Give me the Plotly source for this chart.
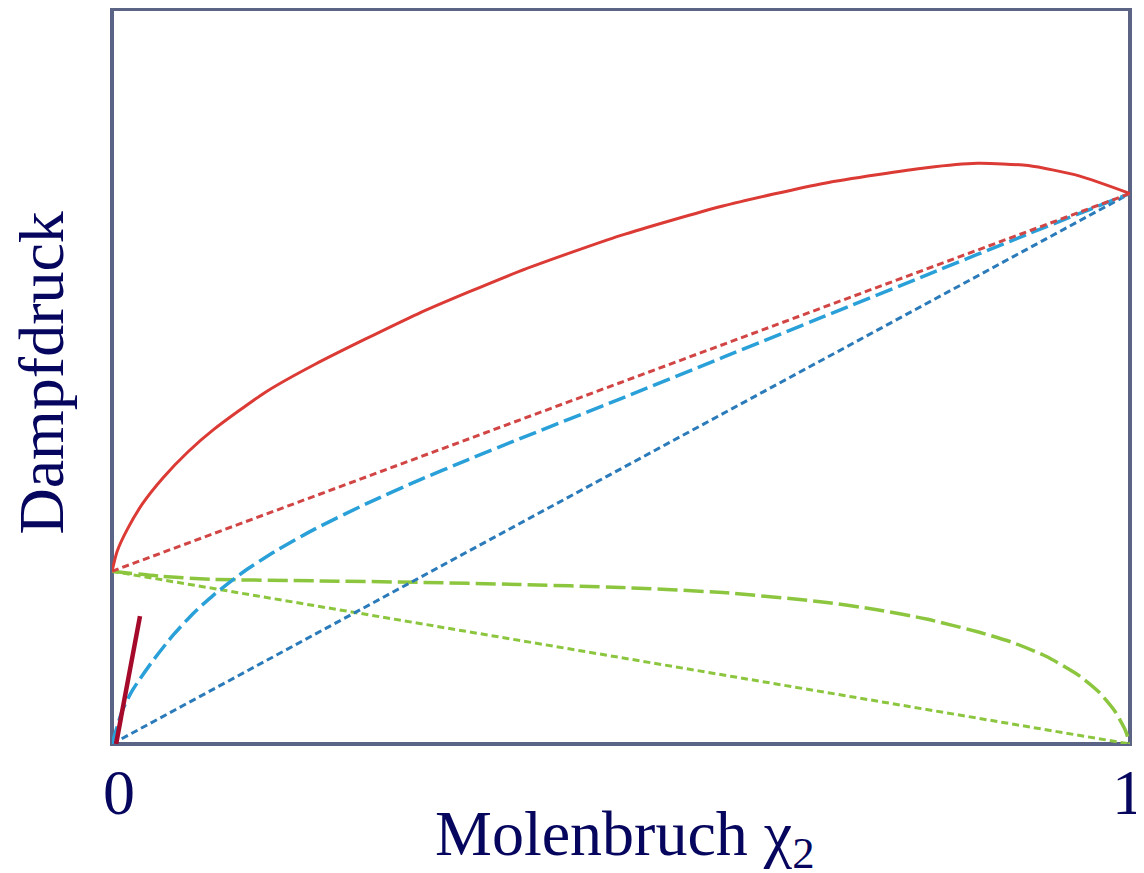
import plotly.graph_objects as go

# ---- data (x = mole fraction, y = relative vapour pressure) ----
x_red_solid = [0, 0.005, 0.015, 0.03, 0.05, 0.075, 0.1, 0.15, 0.2, 0.3, 0.4, 0.5, 0.6, 0.7, 0.8, 0.85, 0.9, 0.95, 1.0]
y_red_solid = [0.235, 0.262, 0.292, 0.327, 0.362, 0.398, 0.428, 0.478, 0.517, 0.585, 0.643, 0.692, 0.732, 0.763, 0.784, 0.790, 0.787, 0.773, 0.749]

x_red_dot = [0, 1]
y_red_dot = [0.235, 0.749]

x_blue_dash = [0, 0.01, 0.02, 0.04, 0.06, 0.08, 0.1, 0.13, 0.16, 0.2, 0.25, 0.3, 0.35, 0.4, 0.5, 0.6, 0.7, 0.8, 0.9, 1.0]
y_blue_dash = [0, 0.045, 0.073, 0.113, 0.148, 0.178, 0.203, 0.235, 0.262, 0.293, 0.327, 0.358, 0.387, 0.415, 0.470,
               0.526, 0.582, 0.638, 0.694, 0.749]

x_blue_dot = [0, 1]
y_blue_dot = [0, 0.749]

x_green_dash = [0, 0.05, 0.1, 0.2, 0.3, 0.4, 0.5, 0.6, 0.7, 0.75, 0.8, 0.852, 0.885, 0.918, 0.951, 0.97, 0.985, 0.995, 1.0]
y_green_dash = [0.235, 0.228, 0.224, 0.222, 0.220, 0.217, 0.213, 0.206, 0.193, 0.183, 0.170, 0.152, 0.138, 0.119, 0.092,
                0.070, 0.045, 0.020, 0.0]

x_green_dot = [0, 1]
y_green_dot = [0.235, 0]

x_henry = [0.004, 0.0275]
y_henry = [0, 0.174]

tick_vals = [0, 1]
tick_text = ["0", "1"]

x_title = "Molenbruch χ<sub>2</sub>"
y_title = "Dampfdruck"

# ---- styles ----
TXT = "#06065e"
FONT = "Liberation Serif"

fig = go.Figure()


def add(x, y, color, width, dash="solid", shape="spline"):
    fig.add_trace(go.Scatter(x=x, y=y, mode="lines",
                             line=dict(color=color, width=width, dash=dash, shape=shape, smoothing=0.6),
                             hoverinfo="skip", showlegend=False))


add(x_green_dot, y_green_dot, "#8cc63f", 3, "7px,4px", "linear")
add(x_green_dash, y_green_dash, "#8cc63f", 3.5, "20px,6px")
add(x_blue_dot, y_blue_dot, "#2b7bba", 3, "7px,4px", "linear")
add(x_blue_dash, y_blue_dash, "#2aa0d9", 3.5, "18px,6px")
add(x_red_dot, y_red_dot, "#d24545", 3, "7px,4px", "linear")
add(x_red_solid, y_red_solid, "#db3a35", 3)
add(x_henry, y_henry, "#a50a2a", 4.5, "solid", "linear")

fig.add_shape(type="rect", xref="paper", yref="paper", x0=0, x1=1, y0=0, y1=1,
              line=dict(color="#5b6485", width=4), layer="below")

# tick labels (placed as annotations at the tick values so they sit like the original)
for v, t in zip(tick_vals, tick_text):
    fig.add_annotation(text=t, xref="x", yref="paper", x=v, y=-0.0655,
                       xshift=7 if v == tick_vals[0] else -2,
                       showarrow=False, xanchor="center", yanchor="middle",
                       font=dict(family=FONT, size=64, color=TXT))

fig.add_annotation(text=y_title, xref="paper", yref="paper", x=-0.069, y=0.505,
                   textangle=-90, showarrow=False, xanchor="center", yanchor="middle",
                   font=dict(family=FONT, size=64, color=TXT))
fig.add_annotation(text=x_title, xref="paper", yref="paper", x=0.504, y=-0.128,
                   showarrow=False, xanchor="center", yanchor="middle",
                   font=dict(family=FONT, size=64, color=TXT))

# page has an 8px body margin, so the figure is shifted by 8px
fig.update_layout(
    width=1136, height=865,
    margin=dict(l=104, r=14, t=1, b=129, autoexpand=False),
    paper_bgcolor="white", plot_bgcolor="white",
    xaxis=dict(range=[0, 1], showgrid=False, zeroline=False, showline=False,
               automargin=False, showticklabels=False, ticks=""),
    yaxis=dict(range=[0, 1], showgrid=False, zeroline=False, showline=False,
               automargin=False, showticklabels=False, ticks=""),
)

fig.write_html("out.html")
